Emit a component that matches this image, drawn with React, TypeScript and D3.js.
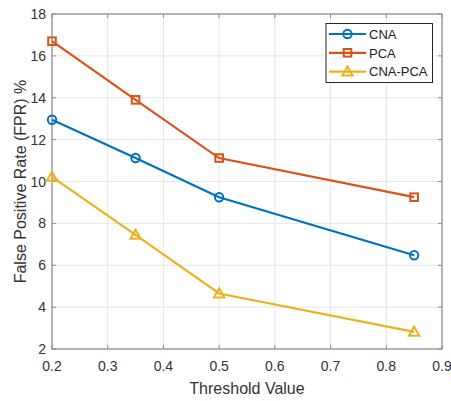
import React from "react";
import * as d3 from "d3";

const thresholds = [0.2, 0.35, 0.5, 0.85];
const cna = [12.95, 11.12, 9.25, 6.48];
const pca = [16.7, 13.9, 11.12, 9.25];
const cnaPca = [10.22, 7.45, 4.65, 2.82];
const xTicks = [0.2, 0.3, 0.4, 0.5, 0.6, 0.7, 0.8, 0.9];
const yTicks = [2, 4, 6, 8, 10, 12, 14, 16, 18];
const seriesNames = ["CNA", "PCA", "CNA-PCA"];
const colors = ["#0072BD", "#D95319", "#EDB120"];

const W = 451, H = 401;
const L = 52, R = 442, T = 14, B = 349;
const font = "'Liberation Sans', Arial, Helvetica, sans-serif";

function Marker({ kind, x, y, color }: { kind: number; x: number; y: number; color: string }) {
  if (kind === 0) return <circle cx={x} cy={y} r={4.2} fill="none" stroke={color} strokeWidth={2} />;
  if (kind === 1) return <rect x={x - 3.8} y={y - 3.8} width={7.6} height={7.6} fill="none" stroke={color} strokeWidth={2} />;
  const s = 5.2;
  return <path d={`M${x},${y - s}L${x + s},${y + s * 0.75}L${x - s},${y + s * 0.75}Z`} fill="none" stroke={color} strokeWidth={2} strokeLinejoin="miter" />;
}

export default function App() {
  const x = d3.scaleLinear().domain([0.2, 0.9]).range([L, R]);
  const y = d3.scaleLinear().domain([2, 18]).range([B, T]);
  const line = d3.line<number>().x((_, i) => x(thresholds[i])).y((d) => y(d));
  const all = [cna, pca, cnaPca];
  return (
    <svg width={W} height={H} style={{ position: "absolute", left: 0, top: 0, background: "#fff" }} fontFamily={font}>
      <rect x={0} y={0} width={W} height={H} fill="#fff" />
      {xTicks.map((t) => (
        <line key={"gx" + t} x1={x(t)} x2={x(t)} y1={T} y2={B} stroke="#e6e6e6" strokeWidth={1} />
      ))}
      {yTicks.map((t) => (
        <line key={"gy" + t} x1={L} x2={R} y1={y(t)} y2={y(t)} stroke="#e6e6e6" strokeWidth={1} />
      ))}
      {xTicks.map((t) => (
        <g key={"tx" + t}>
          <line x1={x(t)} x2={x(t)} y1={B} y2={B - 4} stroke="#8c8c8c" />
          <line x1={x(t)} x2={x(t)} y1={T} y2={T + 4} stroke="#8c8c8c" />
          <text x={x(t)} y={B + 22} textAnchor="middle" fontSize={14} fill="#333">{t.toFixed(1)}</text>
        </g>
      ))}
      {yTicks.map((t) => (
        <g key={"ty" + t}>
          <line x1={L} x2={L + 4} y1={y(t)} y2={y(t)} stroke="#8c8c8c" />
          <line x1={R} x2={R - 4} y1={y(t)} y2={y(t)} stroke="#8c8c8c" />
          <text x={L - 6} y={y(t) + 5} textAnchor="end" fontSize={14} fill="#333">{t}</text>
        </g>
      ))}
      <rect x={L} y={T} width={R - L} height={B - T} fill="none" stroke="#8c8c8c" strokeWidth={1.2} />
      {all.map((s, k) => (
        <g key={"s" + k}>
          <path d={line(s) || ""} fill="none" stroke={colors[k]} strokeWidth={2.2} />
          {s.map((v, i) => (
            <Marker key={i} kind={k} x={x(thresholds[i])} y={y(v)} color={colors[k]} />
          ))}
        </g>
      ))}
      <text x={(L + R) / 2} y={394} textAnchor="middle" fontSize={16} fill="#333">Threshold Value</text>
      <text transform={`translate(26,${(T + B) / 2}) rotate(-90)`} textAnchor="middle" fontSize={16} fill="#333">False Positive Rate (FPR) %</text>
      <g>
        <rect x={326} y={23.5} width={106.5} height={59} fill="#fff" stroke="#262626" strokeWidth={1} />
        {seriesNames.map((n, k) => {
          const ly = 34 + k * 18.8;
          return (
            <g key={n}>
              <line x1={329} x2={366} y1={ly} y2={ly} stroke={colors[k]} strokeWidth={2.2} />
              <Marker kind={k} x={347.5} y={ly} color={colors[k]} />
              <text x={369} y={ly + 4.7} fontSize={13} fill="#222">{n}</text>
            </g>
          );
        })}
      </g>
    </svg>
  );
}
